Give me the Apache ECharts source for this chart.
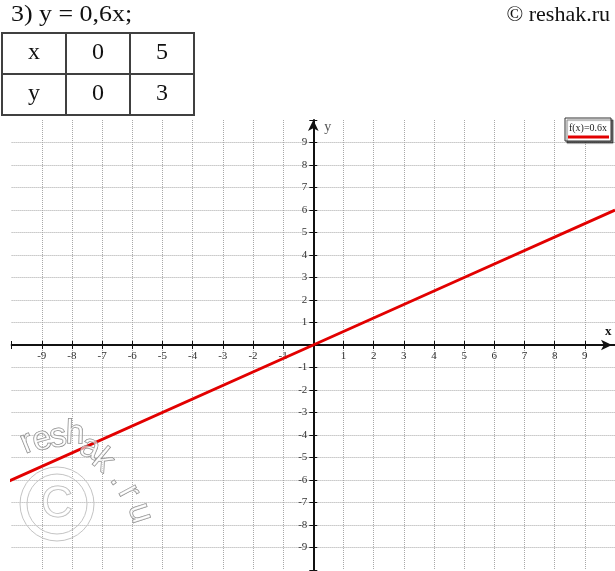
<!DOCTYPE html>
<html>
<head>
<meta charset="utf-8">
<script src="https://cdn.jsdelivr.net/npm/echarts@6/dist/echarts.min.js"></script>
<style>
html,body{margin:0;padding:0;background:#fff;}
#chart{width:615px;height:571px;}
</style>
</head>
<body>
<div id="chart"></div>
<script>
// ---- data ----
const headerText = '3) y = 0,6x;';
const copyrightText = '© reshak.ru';
const tableRowLabels = ['x', 'y'];
const tableX = [0, 5];
const tableY = [0, 3];
const legendLabel = 'f(x)=0.6x';
const lineX = [-10.1, 0, 5, 10];
const lineY = [-6.06, 0, 3, 6];
const axisMin = -10;
const axisMax = 10;
const xTickLabels = [-9, -8, -7, -6, -5, -4, -3, -2, -1, 1, 2, 3, 4, 5, 6, 7, 8, 9];
const yTickLabels = [-9, -8, -7, -6, -5, -4, -3, -2, -1, 1, 2, 3, 4, 5, 6, 7, 8, 9];
const watermarkLetters = ['r','e','s','h','a','k','.','r','u'];

const chart = echarts.init(document.getElementById('chart'), null, {renderer: 'canvas'});

const serif = '"Liberation Serif", "Times New Roman", serif';
const gridStyle = {show: true, showMinLine: false, showMaxLine: false,
  lineStyle: {color: '#a8a8a8', width: 1, type: [1, 1]}};

// table graphics
const tableGraphics = [];
const tx0 = 2, ty0 = 33, cw = 64, ch = 41;
const rows = [[tableRowLabels[0]].concat(tableX), [tableRowLabels[1]].concat(tableY)];
rows.forEach((row, r) => {
  row.forEach((val, c) => {
    tableGraphics.push({type: 'rect', shape: {x: tx0 + c * cw, y: ty0 + r * ch, width: cw, height: ch},
      style: {fill: 'transparent', stroke: '#404040', lineWidth: 2}});
    tableGraphics.push({type: 'text', x: tx0 + c * cw + cw / 2, y: ty0 + r * ch + ch / 2 - 1,
      style: {text: String(val), font: '24px ' + serif, fill: '#111', align: 'center', verticalAlign: 'middle'}});
  });
});

// watermark letters
const wmPos = [[27,443,-22],[42,440,-15],[58,437,-8],[75,434,2],[90,448,22],[103,461,40],[120,478,55],[129,492,62],[140,513,72]];
const wmGraphics = watermarkLetters.map((ch_, i) => ({
  type: 'text', x: wmPos[i][0], y: wmPos[i][1], rotation: -wmPos[i][2] * Math.PI / 180,
  style: {text: ch_, font: '34px "Liberation Sans", Arial, sans-serif', fill: 'rgba(255,255,255,0.55)', stroke: '#808080', lineWidth: 1,
    align: 'center', verticalAlign: 'middle'}, z: 50
}));
wmGraphics.push({type: 'circle', shape: {cx: 57, cy: 504, r: 37}, style: {fill: 'transparent', stroke: '#c4c4c4', lineWidth: 1}, z: 50});
wmGraphics.push({type: 'circle', shape: {cx: 57, cy: 504, r: 30}, style: {fill: 'transparent', stroke: '#c4c4c4', lineWidth: 1}, z: 50});
wmGraphics.push({type: 'text', x: 57, y: 505, style: {text: 'C', font: '44px "Liberation Sans", Arial, sans-serif', fill: 'rgba(255,255,255,0.5)', stroke: '#b0b0b0', lineWidth: 1, align: 'center', verticalAlign: 'middle'}, z: 50});

const tickLabelStyle = {font: '11px ' + serif, fill: '#333'};

const option = {
  animation: false,
  backgroundColor: '#fff',
  grid: {left: 11.6, top: 120, width: 603.4, height: 450, containLabel: false, outerBoundsMode: 'none'},
  xAxis: [{
    type: 'value', min: axisMin, max: axisMax, interval: 1,
    axisLine: {onZero: true, onZeroAxisIndex: 0, lineStyle: {color: '#111', width: 2},
      symbol: ['none', 'arrow'], symbolSize: [8, 11], symbolOffset: [0, -3]},
    axisTick: {show: true, length: 4, lineStyle: {color: '#111', width: 1}},
    axisLabel: {show: false},
    splitLine: gridStyle,
    name: 'x', nameLocation: 'end', nameGap: -10,
    nameTextStyle: {fontFamily: serif, fontSize: 13, fontWeight: 'bold', color: '#111', verticalAlign: 'bottom', align: 'left', padding: [0, 0, 7, 0]}
  }, {
    type: 'value', min: axisMin, max: axisMax, interval: 1, position: 'top',
    axisLine: {onZero: true, onZeroAxisIndex: 0, show: false},
    axisTick: {show: true, length: 4, lineStyle: {color: '#111', width: 1}},
    axisLabel: {show: false}, splitLine: {show: false}
  }],
  yAxis: [{
    type: 'value', min: axisMin, max: axisMax, interval: 1,
    axisLine: {onZero: true, onZeroAxisIndex: 0, lineStyle: {color: '#111', width: 2},
      symbol: ['none', 'arrow'], symbolSize: [8, 11], symbolOffset: [0, 0]},
    axisTick: {show: true, length: 4, lineStyle: {color: '#111', width: 1}},
    axisLabel: {show: false},
    splitLine: gridStyle,
    name: 'y', nameLocation: 'end', nameGap: -14,
    nameTextStyle: {fontFamily: serif, fontSize: 14, color: '#555', verticalAlign: 'bottom', align: 'left', padding: [0, 0, 0, 11]}
  }, {
    type: 'value', min: axisMin, max: axisMax, interval: 1, position: 'right',
    axisLine: {onZero: true, onZeroAxisIndex: 0, show: false},
    axisTick: {show: true, length: 4, lineStyle: {color: '#111', width: 1}},
    axisLabel: {show: false}, splitLine: {show: false}
  }],
  series: [{
    name: legendLabel,
    type: 'line',
    xAxisIndex: 0, yAxisIndex: 0,
    data: lineX.map((x, i) => [x, lineY[i]]),
    showSymbol: false, symbol: 'none',
    clip: false,
    lineStyle: {color: '#e20000', width: 3},
    z: 10
  }, {
    type: 'custom', xAxisIndex: 0, yAxisIndex: 0, silent: true, z: 5,
    data: xTickLabels.map(v => [v, 0]),
    renderItem: function (params, api) {
      const p = api.coord([api.value(0), 0]);
      return {type: 'text', x: p[0], y: p[1] + 6,
        style: Object.assign({text: String(api.value(0)), align: 'center', verticalAlign: 'top'}, tickLabelStyle)};
    }
  }, {
    type: 'custom', xAxisIndex: 0, yAxisIndex: 0, silent: true, z: 5,
    data: yTickLabels.map(v => [0, v]),
    renderItem: function (params, api) {
      const p = api.coord([0, api.value(1)]);
      return {type: 'text', x: p[0] - 6, y: p[1],
        style: Object.assign({text: String(api.value(1)), align: 'right', verticalAlign: 'middle'}, tickLabelStyle)};
    }
  }],
  graphic: [
    {type: 'text', x: 11, y: 15, scaleX: 1.08, style: {text: headerText, font: '24px ' + serif, fill: '#111', verticalAlign: 'middle'}},
    {type: 'text', x: 610, y: 15, style: {text: copyrightText, font: '22px ' + serif, fill: '#111', align: 'right', verticalAlign: 'middle'}},
    ...tableGraphics,
    {type: 'rect', shape: {x: 565, y: 118, width: 46, height: 23},
      style: {fill: '#fff', stroke: '#333', lineWidth: 1, shadowColor: 'rgba(0,0,0,0.55)', shadowOffsetX: 2, shadowOffsetY: 2, shadowBlur: 1}, z: 100},
    {type: 'text', x: 588, y: 128, style: {text: legendLabel, font: '10px ' + serif, fill: '#222', align: 'center', verticalAlign: 'middle'}, z: 101},
    {type: 'line', shape: {x1: 568, y1: 137, x2: 609, y2: 137}, style: {stroke: '#e20000', lineWidth: 3}, z: 101},
    ...wmGraphics
  ]
};
chart.setOption(option);
</script>
</body>
</html>
